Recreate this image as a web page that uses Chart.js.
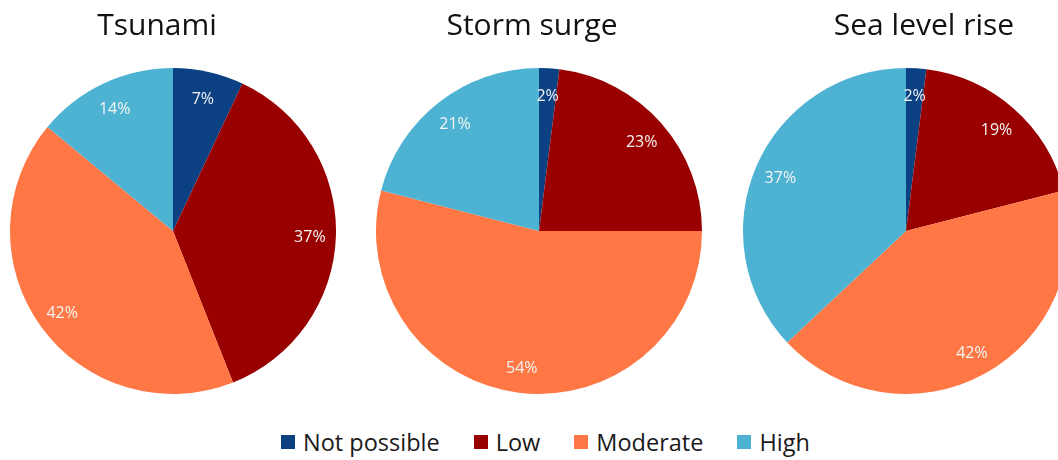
<!DOCTYPE html>
<html>
<head>
<meta charset="utf-8">
<script src="https://cdn.jsdelivr.net/npm/chart.js@4"></script>
<style>
  html, body { margin: 0; padding: 0; background: #fff; }
  body { width: 1058px; height: 460px; overflow: hidden; position: relative; font-family: "Open Sans", "Noto Sans", sans-serif; }
  .pie { position: absolute; top: 0; width: 326px; height: 394px; }
  #legend { position: absolute; left: 281px; top: 426px; display: flex; }
  .item { display: flex; align-items: center; font-size: 23.5px; color: #1a1a1a; margin-right: 34px; }
  .swatch { width: 14px; height: 14px; margin-right: 8px; }
</style>
</head>
<body>
<canvas id="c0" class="pie" width="326" height="394" style="left:10px"></canvas>
<canvas id="c1" class="pie" width="326" height="394" style="left:376px"></canvas>
<canvas id="c2" class="pie" width="326" height="394" style="left:743px"></canvas>
<div id="legend"></div>
<script>
// Likelihood categories and their colours
const categories = ["Not possible", "Low", "Moderate", "High"];
const colors = ["#0b4083", "#990000", "#ff7744", "#4eb3d3"];

// Hazard titles and shares (percent) per category
const titles = ["Tsunami", "Storm surge", "Sea level rise"];
const tsunami = [7, 37, 42, 14];
const stormSurge = [2, 23, 54, 21];
const seaLevelRise = [2, 19, 42, 37];
const series = [tsunami, stormSurge, seaLevelRise];

// horizontal nudge of each title relative to its pie centre
const titleShift = [-16, -7, 18];

// Draws the hazard name above the pie
const titlePlugin = {
  id: 'pieTitle',
  afterDraw(chart, args, opts) {
    const ctx = chart.ctx;
    const a = chart.chartArea;
    ctx.save();
    ctx.font = '30px "Open Sans", "Noto Sans", sans-serif';
    ctx.fillStyle = '#111';
    ctx.textAlign = 'center';
    ctx.textBaseline = 'alphabetic';
    ctx.fillText(opts.text, (a.left + a.right) / 2 + opts.shift, 35);
    ctx.restore();
  }
};

// Writes each slice's percentage inside the slice
const valueLabels = {
  id: 'valueLabels',
  afterDatasetsDraw(chart) {
    const ctx = chart.ctx;
    const meta = chart.getDatasetMeta(0);
    const data = chart.data.datasets[0].data;
    ctx.save();
    ctx.font = '16px "Open Sans", "Noto Sans", sans-serif';
    ctx.fillStyle = '#f4f4f4';
    ctx.textAlign = 'center';
    ctx.textBaseline = 'middle';
    meta.data.forEach((arc, i) => {
      const p = arc.getProps(['x', 'y', 'startAngle', 'endAngle', 'outerRadius'], true);
      const mid = (p.startAngle + p.endAngle) / 2;
      const r = p.outerRadius * 0.84;
      ctx.fillText(data[i] + '%', p.x + Math.cos(mid) * r, p.y + Math.sin(mid) * r + 2);
    });
    ctx.restore();
  }
};

series.forEach((values, k) => {
  new Chart(document.getElementById('c' + k), {
    type: 'pie',
    data: {
      labels: categories,
      datasets: [{ data: values, backgroundColor: colors, borderWidth: 0 }]
    },
    options: {
      responsive: false,
      animation: false,
      layout: { padding: { top: 68 } },
      plugins: {
        legend: { display: false },
        tooltip: { enabled: false },
        pieTitle: { text: titles[k], shift: titleShift[k] }
      }
    },
    plugins: [titlePlugin, valueLabels]
  });
});

// Shared legend below the pies
const legend = document.getElementById('legend');
categories.forEach((name, i) => {
  const item = document.createElement('div');
  item.className = 'item';
  const sw = document.createElement('span');
  sw.className = 'swatch';
  sw.style.background = colors[i];
  item.appendChild(sw);
  item.appendChild(document.createTextNode(name));
  legend.appendChild(item);
});
</script>
</body>
</html>
